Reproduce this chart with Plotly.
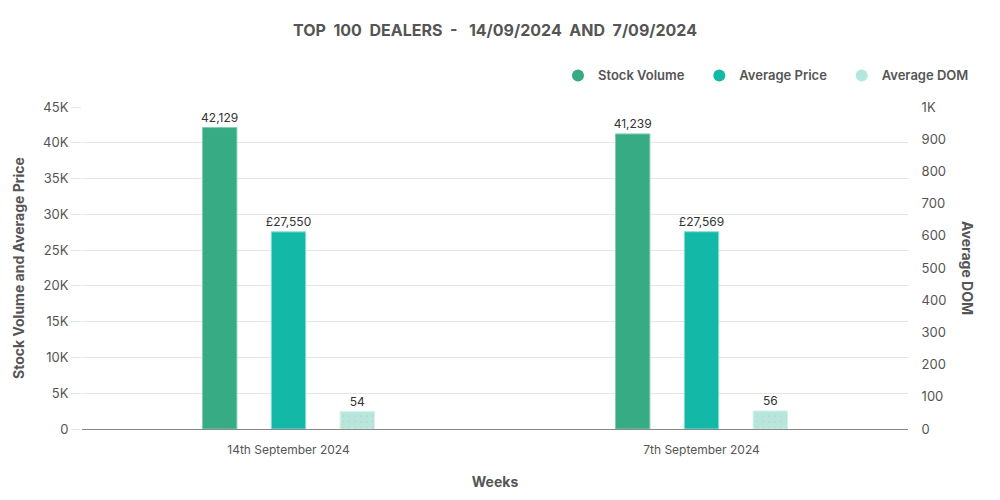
import plotly.graph_objects as go

weeks = ["14th September 2024", "7th September 2024"]
stock_volume = [42129, 41239]
average_price = [27550, 27569]
average_dom = [54, 56]

left_ticks = [0, 5000, 10000, 15000, 20000, 25000, 30000, 35000, 40000, 45000]
left_labels = ["0", "5K", "10K", "15K", "20K", "25K", "30K", "35K", "40K", "45K"]
right_ticks = [0, 100, 200, 300, 400, 500, 600, 700, 800, 900, 1000]
right_labels = ["0", "100", "200", "300", "400", "500", "600", "700", "800", "900", "1K"]

GREEN = "#36ab84"
TEAL = "#14b8a6"
MINT = "#b5e8dc"
GREY = "#555555"
FONT = "Inter"
NB = "\u00a0"

fig = go.Figure()

fig.add_trace(go.Bar(
    x=weeks, y=stock_volume, name="Stock Volume", offsetgroup="1",
    marker=dict(color=GREEN, line=dict(color="#7fcdb2", width=1)),
    texttemplate="%{y:,}", textposition="outside", cliponaxis=False,
    showlegend=False,
))
fig.add_trace(go.Bar(
    x=weeks, y=average_price, name="Average Price", offsetgroup="2",
    marker=dict(color=TEAL, line=dict(color="#8adfd3", width=1)),
    texttemplate="£%{y:,}", textposition="outside", cliponaxis=False,
    showlegend=False,
))
fig.add_trace(go.Bar(
    x=weeks, y=average_dom, name="Average DOM", offsetgroup="3", yaxis="y2",
    marker=dict(color=MINT, line=dict(color="#d3f2ea", width=1),
                pattern=dict(shape=".", fgcolor="#e9b8c8", size=6, solidity=0.15)),
    texttemplate="%{y}", textposition="outside", cliponaxis=False,
    showlegend=False,
))

# legend entries with round markers
for name, col in [("Stock Volume", GREEN), ("Average Price", TEAL), ("Average DOM", MINT)]:
    fig.add_trace(go.Scatter(
        x=[None], y=[None], mode="markers", name=name + NB * 3,
        marker=dict(color=col, size=12, symbol="circle"),
    ))

fig.update_traces(textfont=dict(family=FONT, size=12, color="#333333"),
                  constraintext="none", selector=dict(type="bar"))

# the page is drawn with an 8px offset, so margins are shifted by 8
fig.update_layout(
    width=1000, height=500,
    margin=dict(l=74, r=100, t=99, b=79, autoexpand=False),
    paper_bgcolor="white", plot_bgcolor="white",
    font=dict(family=FONT, size=12, color=GREY),
    barmode="group", bargap=0.5, bargroupgap=0.5,
    title=dict(
        text=NB.join(["TOP", "", "100", "", "DEALERS", "", "-", "", "", "14/09/2024", "", "AND", "", "7/09/2024"]),
        x=0.487, xanchor="center", y=0.955, yanchor="middle",
        font=dict(family=FONT, size=16, color=GREY, weight="bold"),
    ),
    legend=dict(
        orientation="h", x=1.092, xanchor="right", y=1.098, yanchor="middle",
        font=dict(family=FONT, size=13, color=GREY, weight=600),
        itemsizing="constant", itemwidth=30,
    ),
    xaxis=dict(
        showline=True, linecolor="#888888", linewidth=1,
        showgrid=False, ticks="", ticklabelstandoff=10,
        tickfont=dict(size=12, color=GREY),
        title=dict(text="Weeks", font=dict(size=14, color=GREY, weight="bold"), standoff=20),
    ),
    yaxis=dict(
        range=[0, 45000], tickvals=left_ticks, ticktext=left_labels,
        showgrid=True, gridcolor="#e6e6e6", zeroline=False, automargin=False,
        ticks="outside", ticklen=10, tickcolor="#e6e6e6",
        tickfont=dict(size=13, color=GREY),
    ),
    yaxis2=dict(
        range=[0, 1000], tickvals=right_ticks, ticktext=right_labels,
        overlaying="y", side="right", showgrid=False, zeroline=False, automargin=False,
        ticks="outside", ticklen=10, tickcolor="rgba(0,0,0,0)",
        tickfont=dict(size=13, color=GREY),
    ),
    annotations=[
        dict(
            text="Stock Volume and Average Price", textangle=-90, xref="paper", yref="paper",
            x=0.0, xshift=-64, xanchor="center", y=0.5, yanchor="middle", showarrow=False,
            font=dict(family=FONT, size=14, color=GREY, weight="bold"),
        ),
        dict(
            text="Average DOM", textangle=90, xref="paper", yref="paper",
            x=1.0, xshift=60, xanchor="center", y=0.5, yanchor="middle", showarrow=False,
            font=dict(family=FONT, size=14, color=GREY, weight="bold"),
        ),
    ],
)

fig.write_html("out.html")
